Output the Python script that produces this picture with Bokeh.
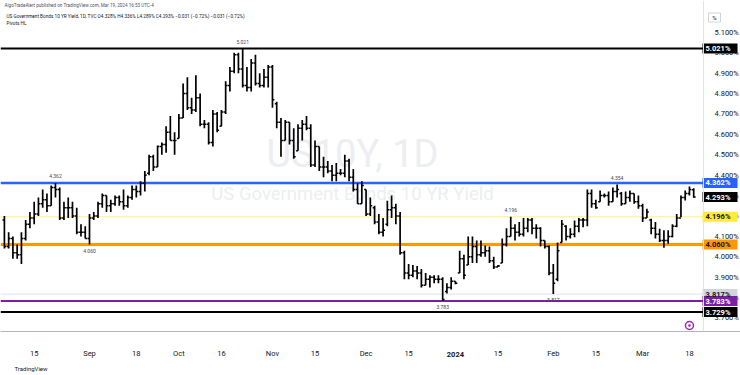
from bokeh.plotting import figure
from bokeh.models import Range1d, Span, Label, FixedTicker, ColumnDataSource, Title, LinearAxis
from bokeh.core.properties import value
from bokeh.embed import file_html
from bokeh.resources import INLINE

# ---------------- data (daily bars, Aug 4 2023 .. Mar 19 2024, weekdays) ----------------
opens = [4.18, 4.05, 4.09, 4.02, 4.01, 4.09, 4.16, 4.19, 4.21, 4.26,
         4.28, 4.25, 4.34, 4.33, 4.19, 4.24, 4.24, 4.20, 4.12, 4.12,
         4.09, 4.19, 4.20, 4.26, 4.30, 4.25, 4.26, 4.29, 4.27, 4.25,
         4.29, 4.33, 4.32, 4.36, 4.41, 4.49, 4.44, 4.54, 4.55, 4.61,
         4.57, 4.58, 4.68, 4.80, 4.73, 4.72, 4.78, 4.65, 4.65, 4.56,
         4.70, 4.64, 4.71, 4.84, 4.91, 4.99, 4.92, 4.84, 4.83, 4.95,
         4.85, 4.84, 4.88, 4.93, 4.75, 4.66, 4.57, 4.66, 4.57, 4.52,
         4.63, 4.65, 4.63, 4.45, 4.54, 4.44, 4.44, 4.42, 4.40, 4.41,
         4.41, 4.47, 4.39, 4.33, 4.26, 4.33, 4.21, 4.24, 4.17, 4.12,
         4.16, 4.23, 4.24, 4.20, 4.02, 3.92, 3.91, 3.93, 3.92, 3.86,
         3.89, 3.90, 3.89, 3.89, 3.83, 3.85, 3.88, 3.92, 3.99, 3.96,
         4.00, 4.05, 4.01, 4.02, 4.03, 3.98, 3.95, 3.97, 4.06, 4.10,
         4.14, 4.12, 4.11, 4.14, 4.18, 4.14, 4.14, 4.08, 4.05, 3.92,
         3.89, 4.07, 4.15, 4.10, 4.11, 4.15, 4.18, 4.18, 4.31, 4.26,
         4.27, 4.30, 4.30, 4.27, 4.32, 4.31, 4.26, 4.29, 4.31, 4.27,
         4.25, 4.19, 4.18, 4.14, 4.11, 4.08, 4.08, 4.10, 4.15, 4.19,
         4.29, 4.31, 4.328]
highs = [4.20, 4.12, 4.10, 4.06, 4.12, 4.18, 4.22, 4.27, 4.29, 4.33,
         4.31, 4.35, 4.362, 4.34, 4.27, 4.29, 4.27, 4.24, 4.16, 4.15,
         4.21, 4.22, 4.27, 4.31, 4.30, 4.28, 4.30, 4.30, 4.33, 4.30,
         4.35, 4.35, 4.37, 4.42, 4.50, 4.50, 4.545, 4.56, 4.64, 4.69,
         4.61, 4.70, 4.85, 4.88, 4.78, 4.89, 4.80, 4.67, 4.66, 4.72,
         4.71, 4.72, 4.86, 4.93, 5.00, 5.00, 5.021, 4.93, 4.97, 4.99,
         4.90, 4.92, 4.94, 4.94, 4.76, 4.68, 4.67, 4.66, 4.63, 4.65,
         4.67, 4.69, 4.65, 4.57, 4.54, 4.49, 4.47, 4.45, 4.46, 4.43,
         4.50, 4.48, 4.43, 4.36, 4.37, 4.33, 4.29, 4.25, 4.21, 4.19,
         4.275, 4.30, 4.26, 4.22, 4.03, 3.965, 3.96, 3.955, 3.94, 3.92,
         3.91, 3.91, 3.91, 3.90, 3.87, 3.90, 3.88, 4.03, 4.01, 4.10,
         4.10, 4.08, 4.08, 4.055, 4.05, 4.00, 3.96, 4.09, 4.14, 4.196,
         4.16, 4.17, 4.19, 4.19, 4.19, 4.16, 4.145, 4.08, 4.055, 3.965,
         4.07, 4.18, 4.155, 4.14, 4.178, 4.19, 4.19, 4.33, 4.33, 4.28,
         4.325, 4.31, 4.32, 4.34, 4.354, 4.317, 4.32, 4.325, 4.31, 4.30,
         4.26, 4.235, 4.186, 4.17, 4.137, 4.13, 4.13, 4.16, 4.21, 4.30,
         4.325, 4.345, 4.336]
lows = [4.04, 4.04, 3.99, 3.99, 3.965, 4.08, 4.14, 4.16, 4.20, 4.24,
        4.22, 4.25, 4.29, 4.18, 4.18, 4.19, 4.19, 4.11, 4.10, 4.09,
        4.06, 4.18, 4.19, 4.24, 4.22, 4.22, 4.25, 4.25, 4.23, 4.24,
        4.28, 4.29, 4.30, 4.32, 4.40, 4.42, 4.44, 4.50, 4.51, 4.57,
        4.50, 4.58, 4.68, 4.72, 4.70, 4.71, 4.64, 4.63, 4.55, 4.54,
        4.61, 4.64, 4.70, 4.81, 4.90, 4.90, 4.83, 4.81, 4.81, 4.84,
        4.83, 4.83, 4.83, 4.73, 4.63, 4.49, 4.57, 4.55, 4.48, 4.52,
        4.57, 4.62, 4.44, 4.44, 4.42, 4.39, 4.41, 4.37, 4.37, 4.40,
        4.39, 4.37, 4.32, 4.26, 4.26, 4.20, 4.20, 4.16, 4.11, 4.10,
        4.15, 4.19, 4.16, 4.01, 3.89, 3.89, 3.90, 3.89, 3.85, 3.86,
        3.85, 3.87, 3.87, 3.783, 3.82, 3.84, 3.865, 3.92, 3.89, 3.96,
        3.97, 3.97, 4.00, 4.00, 3.97, 3.94, 3.95, 3.97, 4.05, 4.10,
        4.08, 4.10, 4.10, 4.12, 4.11, 4.09, 4.05, 4.04, 3.91, 3.817,
        3.88, 4.07, 4.08, 4.09, 4.096, 4.12, 4.145, 4.15, 4.24, 4.235,
        4.27, 4.29, 4.25, 4.27, 4.29, 4.25, 4.26, 4.27, 4.26, 4.235,
        4.17, 4.19, 4.11, 4.09, 4.072, 4.044, 4.064, 4.096, 4.145, 4.194,
        4.276, 4.30, 4.289]
closes = [4.05, 4.09, 4.02, 4.01, 4.09, 4.16, 4.19, 4.21, 4.26, 4.28,
          4.25, 4.34, 4.33, 4.19, 4.24, 4.24, 4.20, 4.12, 4.12, 4.09,
          4.19, 4.20, 4.26, 4.30, 4.25, 4.26, 4.29, 4.27, 4.25, 4.29,
          4.33, 4.32, 4.36, 4.40, 4.49, 4.44, 4.54, 4.55, 4.61, 4.57,
          4.57, 4.68, 4.80, 4.73, 4.72, 4.78, 4.65, 4.65, 4.56, 4.70,
          4.62, 4.71, 4.84, 4.91, 4.99, 4.92, 4.84, 4.83, 4.95, 4.85,
          4.84, 4.88, 4.93, 4.77, 4.66, 4.57, 4.66, 4.57, 4.49, 4.63,
          4.65, 4.63, 4.45, 4.54, 4.44, 4.44, 4.42, 4.40, 4.41, 4.41,
          4.47, 4.39, 4.33, 4.26, 4.35, 4.21, 4.25, 4.17, 4.12, 4.13,
          4.23, 4.24, 4.20, 4.02, 3.92, 3.91, 3.93, 3.92, 3.86, 3.89,
          3.90, 3.89, 3.89, 3.79, 3.85, 3.88, 3.87, 3.99, 3.91, 4.00,
          4.05, 4.01, 4.02, 4.03, 3.98, 3.95, 3.955, 4.06, 4.10, 4.14,
          4.12, 4.11, 4.14, 4.18, 4.14, 4.14, 4.08, 4.05, 3.92, 3.87,
          4.03, 4.16, 4.10, 4.11, 4.15, 4.18, 4.18, 4.31, 4.26, 4.24,
          4.30, 4.30, 4.27, 4.32, 4.33, 4.26, 4.29, 4.31, 4.27, 4.25,
          4.19, 4.22, 4.14, 4.11, 4.08, 4.08, 4.10, 4.15, 4.19, 4.29,
          4.31, 4.33, 4.293]

# time axis (bar index -> label)
tick_idx = [7, 20, 31, 41, 51, 63, 73, 85, 95, 106, 116, 129, 139, 150, 161]
tick_labels = ["15", "Sep", "18", "Oct", "16", "Nov", "15", "Dec", "15", "2024",
               "15", "Feb", "15", "Mar", "18"]
year_idx = [106]

# price scale ticks
price_ticks = [3.7, 3.8, 3.9, 4.0, 4.1, 4.2, 4.3, 4.4, 4.5, 4.6, 4.7, 4.8, 4.9, 5.0, 5.1]

# horizontal levels and their price-scale tags
level_values = [5.021, 4.362, 4.196, 4.060, 3.817, 3.783, 3.729]
level_colors = ["#000000", "#2962ff", "#fff176", "#ff9800", "#e0e3eb", "#7b1fa2", "#000000"]
tag_colors = ["#000000", "#2962ff", "#ffeb3b", "#ff9800", "#d1d4dc", "#7b1fa2", "#000000"]
level_widths = [2, 2.5, 1, 3, 1, 2, 2]
tag_text_colors = ["#ffffff", "#ffffff", "#131722", "#131722", "#131722", "#ffffff", "#ffffff"]
last_price = 4.293

# pivots HL
pivot_idx = [12, 20, 56, 103, 119, 129, 144]
pivot_vals = [4.362, 4.060, 5.021, 3.783, 4.196, 3.817, 4.354]
pivot_high = [True, False, True, False, True, False, True]

event_idx = [161]

FONT = "Roboto"

# ---------------- layout helpers (pixel <-> data) ----------------
PX0, DX = 3.9, 4.255          # screen x of bar 0, px per bar
YREF, VREF, DY = 48.0, 5.021, 204.0   # screen y of a reference value, px per 1.0


def xi(px):
    return (px - PX0) / DX


def yv(py):
    return VREF - (py - YREF) / DY


W, H, PANE_H = 740, 375, 331
X0, X1 = xi(0), xi(W)
Y0, Y1 = yv(PANE_H), yv(0)
PANE_END = xi(703)

n = len(closes)
xs = list(range(n))

p = figure(width=W, height=H, x_range=Range1d(X0, X1), y_range=Range1d(Y0, Y1),
           y_axis_location=None, output_backend="svg", toolbar_location=None,
           min_border_left=0, min_border_right=0, min_border_top=0,
           min_border_bottom=H - PANE_H,
           background_fill_color="#ffffff", border_fill_color="#ffffff",
           outline_line_color=None)
p.xgrid.visible = False
p.ygrid.visible = False


def style_time_axis(ax, standoff, bold=False):
    ax.major_tick_line_color = None
    ax.minor_tick_line_color = None
    ax.major_tick_out = 0
    ax.major_tick_in = 0
    ax.major_label_standoff = standoff
    ax.major_label_text_font_size = "7.5px"
    ax.major_label_text_font = FONT
    ax.major_label_text_color = "#131722"
    if bold:
        ax.major_label_text_font_style = "bold"


# time axis (month / day labels)
xa = p.xaxis[0]
xa.ticker = FixedTicker(ticks=tick_idx)
xa.major_label_overrides = {t: ("" if t in year_idx else lab)
                            for t, lab in zip(tick_idx, tick_labels)}
style_time_axis(xa, 17)
xa.axis_line_color = "#b2b5be"
xa.axis_line_width = 1

# year label in bold, on the same row
ya_year = LinearAxis(ticker=FixedTicker(ticks=year_idx),
                     major_label_overrides={t: lab for t, lab in zip(tick_idx, tick_labels)
                                            if t in year_idx})
style_time_axis(ya_year, -9, bold=True)
ya_year.axis_line_color = None
p.add_layout(ya_year, "below")

p.add_layout(Title(text="TradingView", align="left", offset=14, standoff=5,
                   text_font=FONT, text_font_size="6px", text_font_style="normal",
                   text_color="#131722"), "below")

# watermark
xc = xi(352)
p.add_layout(Label(x=xc, y=yv(153), text="US10Y, 1D", text_align="center",
                   text_baseline="middle", text_font=FONT, text_font_size="38px",
                   text_color="#eceef2", level="underlay"))
p.add_layout(Label(x=xc, y=yv(193), text="US Government Bonds 10 YR Yield",
                   text_align="center", text_baseline="middle", text_font=FONT,
                   text_font_size="18.5px", text_color="#eceef2", level="underlay"))

# pane / price scale separator
p.add_layout(Span(location=PANE_END, dimension="height", line_color="#e0e3eb", line_width=1))

# horizontal levels (pane only)
k = len(level_values)
p.segment(x0=[X0] * k, y0=level_values, x1=[PANE_END] * k, y1=level_values,
          line_color=level_colors, line_width=level_widths)

# OHLC bars
src = ColumnDataSource(dict(x=xs, o=opens, h=highs, l=lows, c=closes,
                            xl=[i - 0.45 for i in xs], xr=[i + 0.45 for i in xs]))
p.segment(x0="x", y0="l", x1="x", y1="h", source=src, line_color="#000000", line_width=1.7)
p.segment(x0="xl", y0="o", x1="x", y1="o", source=src, line_color="#000000", line_width=1.5)
p.segment(x0="x", y0="c", x1="xr", y1="c", source=src, line_color="#000000", line_width=1.5)

# pivot labels
for i, v, hi in zip(pivot_idx, pivot_vals, pivot_high):
    p.add_layout(Label(x=i, y=v, y_offset=5 if hi else -4, text=f"{v:.3f}",
                       text_align="center", text_baseline="bottom" if hi else "top",
                       text_font=FONT, text_font_size="5px", text_color="#434651"))

# price scale: tick texts
m = len(price_ticks)
p.text(x=[xi(714)] * m, y=price_ticks, text=[f"{t:.3f}%" for t in price_ticks],
       text_font=value(FONT), text_font_size=value("7.5px"), text_color="#131722",
       text_align="left", text_baseline="middle")

# price scale: colored tags
tag_vals = level_values + [last_price]
tag_fill = tag_colors + ["#000000"]
tag_tc = tag_text_colors + ["#ffffff"]
kt = len(tag_vals)
p.rect(x=[xi(719.5)] * kt, y=tag_vals, width=35 / DX, height=10, height_units="screen",
       fill_color=tag_fill, line_color=None)
p.text(x=[xi(705)] * kt, y=tag_vals, text=[f"{v:.3f}%" for v in tag_vals],
       text_font=value(FONT), text_font_size=value("7.5px"), text_font_style="bold",
       text_color=tag_tc, text_align="left", text_baseline="middle")

# "%" unit box
p.rect(x=[xi(714)], y=[yv(17)], width=12 / DX, height=9, height_units="screen",
       fill_color="#ffffff", line_color="#d1d4dc", line_width=1)
p.text(x=[xi(714)], y=[yv(17)], text=["%"], text_font=value(FONT),
       text_font_size=value("6px"), text_color="#131722", text_align="center",
       text_baseline="middle")

# event marker
ey = [yv(325)] * len(event_idx)
p.scatter(x=event_idx, y=ey, marker="circle", size=8, fill_color="#ffffff",
          line_color="#9c27b0", line_width=1.5)
p.scatter(x=event_idx, y=ey, marker="circle", size=2.5, fill_color="#9c27b0", line_color=None)

# header legend
p.add_layout(Label(x=X0, x_offset=4, y=yv(5), text_baseline="middle",
                   text="AlgoTradeAlert published on TradingView.com, Mar 19, 2024 16:53 UTC-4",
                   text_font=FONT, text_font_size="4.6px", text_color="#50535e"))
p.add_layout(Label(x=X0, x_offset=6, y=yv(16), text_baseline="middle",
                   text="US Government Bonds 10 YR Yield, 1D, TVC  O4.328%  H4.336%  L4.289%  C4.293%  \u22120.031 (\u22120.72%)  \u22120.031 (\u22120.72%)",
                   text_font=FONT, text_font_size="4.7px", text_color="#131722"))
p.add_layout(Label(x=X0, x_offset=6, y=yv(23), text_baseline="middle",
                   text="Pivots HL", text_font=FONT, text_font_size="4.7px", text_color="#131722"))

open("out.html", "w").write(file_html(p, INLINE))
